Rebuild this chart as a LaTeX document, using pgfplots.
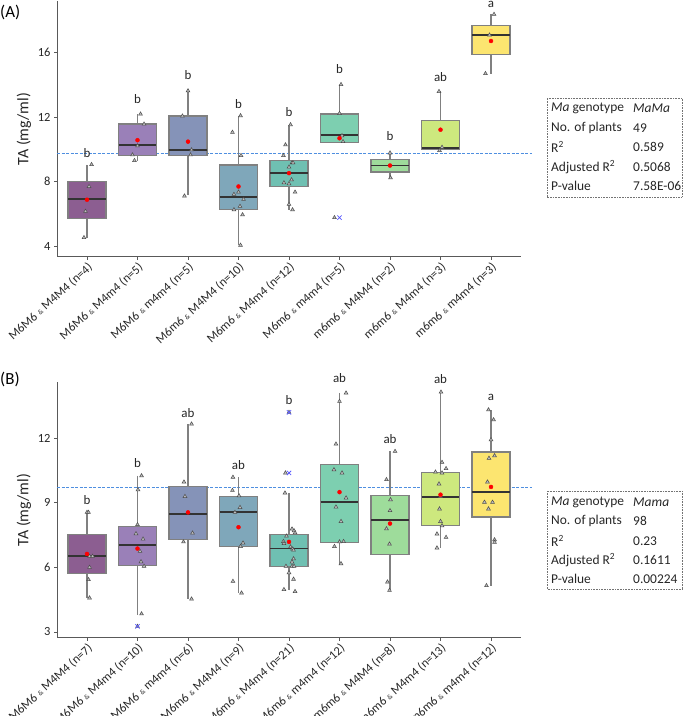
\documentclass[border=0pt]{standalone}
\usepackage{fontspec}
\setmainfont{Carlito}
\usepackage{pgfplots}
\pgfplotsset{compat=1.18}
\usepgfplotslibrary{statistics}
\usetikzlibrary{plotmarks}

\definecolor{c0}{HTML}{8C5E91}
\definecolor{c1}{HTML}{9A80B8}
\definecolor{c2}{HTML}{8593B8}
\definecolor{c3}{HTML}{7FA7BA}
\definecolor{c4}{HTML}{6FC0B2}
\definecolor{c5}{HTML}{7DCFB0}
\definecolor{c6}{HTML}{9EDC9B}
\definecolor{c7}{HTML}{CDE87E}
\definecolor{c8}{HTML}{FCE570}
\definecolor{meanline}{HTML}{4F8FE0}

\newcommand{\amp}{{\fontsize{7}{8}\selectfont\&}}

\pgfplotsset{
  taplot/.style={
    scale only axis, width=464bp, height=256bp,
    xmin=-0.594, xmax=8.594,
    axis lines*=left,
    axis line style={draw=black!65, line width=1bp},
    xtick={0,...,8}, tick align=outside, major tick length=3bp,
    tick style={draw=black!65, line width=0.6bp},
    /pgf/number format/assume math mode=true,
    ticklabel style={font=\fontsize{12.5}{14}\selectfont, text=black!85},
    xticklabel style={rotate=42, anchor=north east, inner sep=1pt},
    ylabel={TA (mg/ml)},
    ylabel style={font=\fontsize{16}{18}\selectfont, text=black!85},
    clip=false,
    boxplot/draw direction=y,
    boxplot/box extend=0.75,
    boxplot/whisker extend=0,
    boxplot/every box/.style={draw=black!50, line width=1.3bp},
    boxplot/every whisker/.style={draw=black!50, line width=1.1bp},
    boxplot/every median/.style={draw=black!80, line width=1.8bp},
  },
  meanref/.style={draw=meanline, line width=1bp, dash pattern=on 3bp off 1.5bp, mark=none},
  pts/.style={only marks, mark=triangle*, mark size=2.2bp,
    mark options={fill=black!25, draw=black!70, line width=0.5bp}},
  means/.style={only marks, mark=*, mark size=2bp, color=red},
  outl/.style={only marks, mark=x, mark size=3bp, color=blue!65, line width=0.8bp},
  letter/.style={only marks, mark=text, text mark={#1}, text mark as node=true,
    text mark style={font=\fontsize{13}{15}\selectfont, text=black!85, inner sep=0pt}},
}

\begin{document}
\begin{tikzpicture}[x=1bp,y=1bp]
\useasboundingbox (0,0) rectangle (685,716);

% ---------------- (A) ----------------
\begin{axis}[taplot, at={(57bp,459bp)}, anchor=south west,
  ymin=3.33, ymax=19.2, ytick={4,8,12,16},
  xticklabels={
    {M6M6 \amp{} M4M4 (n=4)}, {M6M6 \amp{} M4m4 (n=5)}, {M6M6 \amp{} m4m4 (n=5)},
    {M6m6 \amp{} M4M4 (n=10)}, {M6m6 \amp{} M4m4 (n=12)}, {M6m6 \amp{} m4m4 (n=5)},
    {m6m6 \amp{} M4M4 (n=2)}, {m6m6 \amp{} M4m4 (n=3)}, {m6m6 \amp{} m4m4 (n=3)}}]
\addplot[meanref] coordinates {(-0.594,9.75) (8.81,9.75)};
\addplot[fill=c0, boxplot prepared={draw position=0, lower whisker=4.53, lower quartile=5.71, median=6.90, upper quartile=8.01, upper whisker=9.06}] coordinates {};
\addplot[fill=c1, boxplot prepared={draw position=1, lower whisker=9.31, lower quartile=9.62, median=10.26, upper quartile=11.57, upper whisker=12.19}] coordinates {};
\addplot[fill=c2, boxplot prepared={draw position=2, lower whisker=7.15, lower quartile=9.62, median=9.97, upper quartile=12.07, upper whisker=13.63}] coordinates {};
\addplot[fill=c3, boxplot prepared={draw position=3, lower whisker=4.06, lower quartile=6.28, median=7.07, upper quartile=9.04, upper whisker=12.09}] coordinates {};
\addplot[fill=c4, boxplot prepared={draw position=4, lower whisker=6.22, lower quartile=7.72, median=8.53, upper quartile=9.29, upper whisker=11.53}] coordinates {};
\addplot[fill=c5, boxplot prepared={draw position=5, lower whisker=10.44, lower quartile=10.44, median=10.87, upper quartile=12.19, upper whisker=14.02}] coordinates {};
\addplot[fill=c6, boxplot prepared={draw position=6, lower whisker=8.24, lower quartile=8.59, median=9.00, upper quartile=9.39, upper whisker=9.78}] coordinates {};
\addplot[fill=c7, boxplot prepared={draw position=7, lower whisker=10.03, lower quartile=10.03, median=10.09, upper quartile=11.80, upper whisker=13.59}] coordinates {};
\addplot[fill=c8, boxplot prepared={draw position=8, lower whisker=14.70, lower quartile=15.90, median=17.07, upper quartile=17.69, upper whisker=18.37}] coordinates {};
\addplot[pts] coordinates {
  (0.09,9.06)(0.04,7.70)(-0.03,6.16)(-0.06,4.53)
  (1.06,12.19)(1.13,11.57)(1.00,10.22)(0.90,9.66)(0.94,9.31)
  (2.00,13.63)(1.89,12.07)(2.07,9.97)(2.05,9.66)(1.93,7.11)
  (3.04,12.09)(2.88,11.06)(3.05,9.62)(2.91,7.21)(3.00,7.35)(3.10,6.90)(3.03,6.47)(2.91,6.26)(3.08,5.95)(3.04,4.06)
  (4.03,11.53)(3.93,10.28)(3.89,9.62)(4.06,9.17)(4.08,9.17)(4.00,8.90)(4.05,8.12)(3.90,7.93)(4.00,7.87)(4.12,7.35)(4.00,6.59)(4.07,6.26)
  (5.03,14.02)(5.00,12.23)(5.05,10.85)(5.07,10.48)(4.90,5.77)
  (6.00,9.78)(6.01,8.24)
  (6.97,13.59)(7.03,10.13)(6.98,9.93)
  (8.06,18.37)(7.97,17.09)(7.89,14.70)};
\addplot[means] coordinates {(0,6.88)(1,10.57)(2,10.48)(3,7.70)(4,8.53)(5,10.69)(6,9.00)(7,11.22)(8,16.72)};
\addplot[outl] coordinates {(5,5.77)};
\addplot[letter=b] coordinates {(0,9.8)(1,13.1)(2,14.6)(3,12.8)(4,12.34)(5,15.0)(6,10.8)};
\addplot[letter=ab] coordinates {(7,14.48)};
\addplot[letter=a] coordinates {(8,19.0)};
\end{axis}

% ---------------- (B) ----------------
\begin{axis}[taplot, at={(57bp,78bp)}, anchor=south west,
  ymin=2.72, ymax=14.6, ytick={3,6,9,12},
  xticklabels={
    {M6M6 \amp{} M4M4 (n=7)}, {M6M6 \amp{} M4m4 (n=10)}, {M6M6 \amp{} m4m4 (n=6)},
    {M6m6 \amp{} M4M4 (n=9)}, {M6m6 \amp{} M4m4 (n=21)}, {M6m6 \amp{} m4m4 (n=12)},
    {m6m6 \amp{} M4M4 (n=8)}, {m6m6 \amp{} M4m4 (n=13)}, {m6m6 \amp{} m4m4 (n=12)}}]
\addplot[meanref] coordinates {(-0.594,9.72) (8.81,9.72)};
\addplot[fill=c0, boxplot prepared={draw position=0, lower whisker=4.58, lower quartile=5.72, median=6.51, upper quartile=7.52, upper whisker=8.55}] coordinates {};
\addplot[fill=c1, boxplot prepared={draw position=1, lower whisker=3.80, lower quartile=6.08, median=7.05, upper quartile=7.90, upper whisker=10.25}] coordinates {};
\addplot[fill=c2, boxplot prepared={draw position=2, lower whisker=4.53, lower quartile=7.28, median=8.46, upper quartile=9.76, upper whisker=12.65}] coordinates {};
\addplot[fill=c3, boxplot prepared={draw position=3, lower whisker=4.81, lower quartile=6.97, median=8.55, upper quartile=9.29, upper whisker=10.18}] coordinates {};
\addplot[fill=c4, boxplot prepared={draw position=4, lower whisker=4.93, lower quartile=6.05, median=6.87, upper quartile=7.52, upper whisker=9.45}] coordinates {};
\addplot[fill=c5, boxplot prepared={draw position=5, lower whisker=6.17, lower quartile=7.16, median=9.02, upper quartile=10.76, upper whisker=14.09}] coordinates {};
\addplot[fill=c6, boxplot prepared={draw position=6, lower whisker=4.92, lower quartile=6.60, median=8.21, upper quartile=9.32, upper whisker=11.38}] coordinates {};
\addplot[fill=c7, boxplot prepared={draw position=7, lower whisker=6.90, lower quartile=7.93, median=9.26, upper quartile=10.41, upper whisker=14.13}] coordinates {};
\addplot[fill=c8, boxplot prepared={draw position=8, lower whisker=5.15, lower quartile=8.34, median=9.48, upper quartile=11.35, upper whisker=13.31}] coordinates {};
\addplot[pts] coordinates {
  (0.00,8.55)(0.03,8.55)(0.05,6.51)(0.11,6.51)(0.05,6.00)(0.03,5.43)(0.05,4.58)
  (1.08,10.25)(1.01,9.60)(1.00,7.98)(0.97,7.56)(1.11,7.31)(1.05,6.74)(1.07,6.26)(1.13,6.05)(1.08,3.84)(1.00,3.26)
  (2.07,12.65)(1.92,9.96)(1.94,9.29)(2.09,7.59)(1.91,7.18)(2.07,4.53)
  (2.89,10.18)(2.88,9.57)(3.01,9.32)(3.03,8.78)(2.93,8.55)(3.09,7.13)(3.04,6.97)(2.89,5.35)(3.06,4.81)
  (4.00,13.19)(3.93,10.38)(3.92,9.45)(4.06,7.78)(4.10,7.70)(4.12,7.60)(3.95,7.45)(3.89,7.20)(3.90,7.10)(4.03,6.95)(4.07,6.85)
  (4.09,6.80)(4.09,6.40)(4.06,6.25)(3.94,6.05)(4.06,6.05)(4.10,6.05)(4.00,5.75)(4.09,5.45)(3.90,4.97)(4.12,4.88)
  (5.13,14.09)(5.00,13.70)(4.93,11.72)(4.89,10.53)(5.05,10.38)(5.13,9.22)(4.93,8.80)(5.03,8.13)(5.00,7.18)(5.08,7.20)(4.90,6.97)(5.03,6.17)
  (6.10,11.38)(5.93,10.07)(6.01,9.14)(6.00,8.63)(5.93,7.79)(5.99,7.08)(5.95,5.32)(5.99,4.93)
  (7.01,14.13)(7.03,10.87)(7.11,10.58)(6.90,10.42)(7.03,10.38)(6.97,9.87)(7.00,9.29)(6.98,8.71)(7.00,8.13)(7.03,7.93)(6.93,7.55)(7.11,7.39)(6.93,6.90)
  (7.95,13.31)(8.05,12.85)(8.00,11.92)(8.07,11.18)(7.96,11.06)(7.93,9.96)(7.87,9.02)(8.03,9.02)(7.95,8.71)(8.07,7.28)(8.07,7.16)(7.91,5.15)};
\addplot[means] coordinates {(0,6.62)(1,6.87)(2,8.55)(3,7.86)(4,7.18)(5,9.49)(6,8.03)(7,9.37)(8,9.73)};
\addplot[outl] coordinates {(1,3.26)(4,13.19)(4,10.38)};
\addplot[letter=b] coordinates {(0,9.14)(1,10.84)(4,13.78)};
\addplot[letter=ab] coordinates {(2,13.16)(3,10.76)(5,14.78)(6,11.97)(7,14.74)};
\addplot[letter=a] coordinates {(8,13.9)};
\end{axis}

% panel letters
\node[anchor=west, inner sep=0pt, font=\fontsize{17}{19}\selectfont] at (0,704) {(A)};
\node[anchor=west, inner sep=0pt, font=\fontsize{17}{19}\selectfont] at (0,337) {(B)};

% statistics tables
\begin{scope}[every node/.style={anchor=west, inner sep=0pt, font=\fontsize{13.5}{15}\selectfont, text=black!85}]
\draw[densely dotted, draw=black!55, line width=0.6bp] (547,519) rectangle (682,618);
\node at (551,608) {\textit{Ma} genotype}; \node at (633,608) {\textit{MaMa}};
\node at (551,588) {No. of plants};      \node at (633,588) {49};
\node at (551,569) {R\textsuperscript{2}}; \node at (633,569) {0.589};
\node at (551,549) {Adjusted R\textsuperscript{2}}; \node at (633,549) {0.5068};
\node at (551,530) {P-value};            \node at (633,530) {7.58E-06};

\draw[densely dotted, draw=black!55, line width=0.6bp] (547,127) rectangle (682,225);
\node at (551,214) {\textit{Ma} genotype}; \node at (633,214) {\textit{Mama}};
\node at (551,195) {No. of plants};      \node at (633,195) {98};
\node at (551,175) {R\textsuperscript{2}}; \node at (633,175) {0.23};
\node at (551,156) {Adjusted R\textsuperscript{2}}; \node at (633,156) {0.1611};
\node at (551,137) {P-value};            \node at (633,137) {0.00224};
\end{scope}
\end{tikzpicture}
\end{document}
